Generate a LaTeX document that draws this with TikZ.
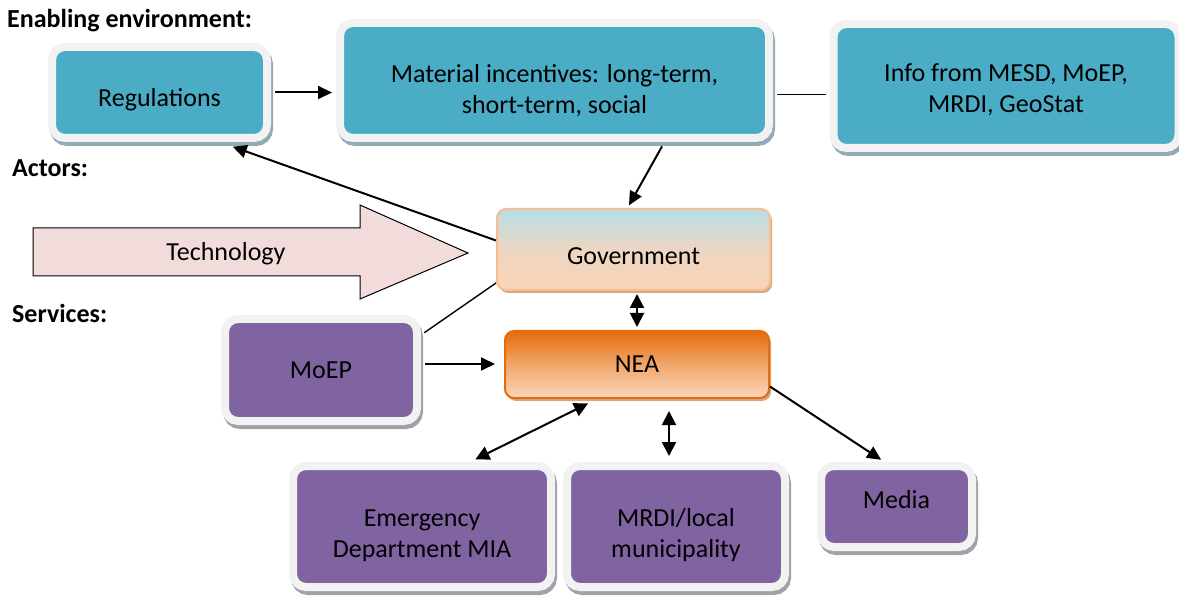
\documentclass[tikz,border=0pt]{standalone}
\usepackage{fontspec}
\setmainfont{Carlito}
\usetikzlibrary{arrows.meta,shadows}

\definecolor{tealbox}{HTML}{4BACC6}
\definecolor{purplebox}{HTML}{8064A2}
\definecolor{framegray}{HTML}{F2F2F2}
\definecolor{tealshadow}{HTML}{93AAB5}
\definecolor{purpleshadow}{HTML}{A3A0AA}
\definecolor{govtop}{HTML}{B7DEE8}
\definecolor{govbottom}{HTML}{FAD4B8}
\definecolor{govline}{HTML}{F9BE8F}
\definecolor{neatop}{HTML}{E46C0A}
\definecolor{neabottom}{HTML}{FBD6BA}
\definecolor{peachshadow}{HTML}{D3A888}
\definecolor{techfill}{HTML}{F2DCDB}

% text lowered inside its box, box size kept
\newcommand{\boxtext}[2]{\raisebox{-#1}[\height][\depth]{\begin{tabular}{@{}c@{}}#2\end{tabular}}}

\tikzset{
  framebox/.style={draw=framegray, line width=8pt, rounded corners=13pt,
    align=center, inner sep=0pt, font=\fontsize{26}{31}\selectfont},
  envbox/.style={framebox, fill=tealbox,
    drop shadow={shadow xshift=2pt, shadow yshift=-4pt, opacity=1,
      fill=tealshadow, draw=tealshadow, line width=8pt}},
  servbox/.style={framebox, fill=purplebox,
    drop shadow={shadow xshift=2pt, shadow yshift=-4pt, opacity=1,
      fill=purpleshadow, draw=purpleshadow, line width=8pt}},
  actorbox/.style={rounded corners=9pt, line width=2pt, inner sep=0pt,
    font=\fontsize{26}{31}\selectfont,
    drop shadow={shadow xshift=2pt, shadow yshift=-3pt, opacity=1,
      fill=peachshadow}},
  heading/.style={anchor=west, inner sep=0pt,
    font=\bfseries\fontsize{26}{31}\selectfont},
  conn/.style={line width=2pt, -{Triangle[length=14pt,width=13pt]}},
  twoway/.style={line width=2pt,
    {Triangle[length=14pt,width=14pt]}-{Triangle[length=14pt,width=14pt]}},
  plain/.style={line width=1.4pt}
}

\begin{document}
\begin{tikzpicture}[x=1pt, y=-1pt]

\useasboundingbox (0,0) rectangle (1179,596);


% Headings
\path
(7,21) node [heading] (henv) {Enabling environment:};
\path
(12,168) node [heading] (hact) {Actors:};
\path
(12,313) node [heading] (hserv) {Services:};



% Enabling environment
\path
(159.5,92.5) node [envbox, minimum width=215, minimum height=91] (regs)
{\boxtext{8pt}{Regulations}};

\path
(554.5,80.5) node [envbox, minimum width=429, minimum height=115] (mat)
{\boxtext{11pt}{Material incentives: long-term,\\ short-term, social}};

\path
(1006,86) node [envbox, minimum width=345, minimum height=124] (info)
{\boxtext{5pt}{Info from MESD, MoEP,\\ MRDI, GeoStat}};



% Technology arrow
\filldraw[fill=techfill, draw=black, line width=1pt]
(33,228) -- (360,228) -- (360,205) -- (468,253) -- (360,299) -- (360,276) -- (33,276) -- cycle;
\path
(226,254) node [font=\fontsize{26}{31}\selectfont] (tech) {Technology};



% Actors
\path
(633.5,249.5) node [actorbox, draw=govline, top color=govtop, bottom color=govbottom,
  middle color=govbottom!80!govtop, minimum width=273, minimum height=81] (gov)
{\boxtext{9pt}{Government}};

\path
(637,364.5) node [actorbox, draw=neatop, top color=neatop, bottom color=neabottom,
  middle color=neatop!45!neabottom, minimum width=264, minimum height=67] (nea) {NEA};



% Services
\path
(321,370) node [servbox, minimum width=192, minimum height=102] (moep) {MoEP};

\path
(422,526.5) node [servbox, minimum width=258, minimum height=121] (emerg)
{\boxtext{9pt}{Emergency\\ Department MIA}};

\path
(676,526.5) node [servbox, minimum width=218, minimum height=121] (mrdi)
{\boxtext{9pt}{MRDI/local\\ municipality}};

\path
(896.5,506.5) node [servbox, minimum width=151, minimum height=81] (media)
{\boxtext{-4pt}{Media}};



% Connectors
\draw[conn, shorten <=4pt, shorten >=4pt] (regs.east) -- (regs.east -| mat.west);
\draw[plain, shorten <=4pt, shorten >=4pt] ([yshift=-14pt]mat.east) -- ([yshift=-14pt]mat.east -| info.west);
\draw[conn, shorten <=5pt, shorten >=3pt] ([xshift=110pt]mat.south) -- ([xshift=-6pt]gov.north);
\draw[conn, shorten >=14pt] ([yshift=9pt]gov.west) -- ([xshift=60pt]regs.south);
\draw[plain, shorten >=4pt] ([yshift=8pt]gov.south west) -- ([yshift=35pt]moep.east);
\draw[conn, shorten <=4pt, shorten >=9pt] ([yshift=6pt]moep.east) -- ([yshift=6pt]moep.east -| nea.west);
\draw[twoway, shorten <=3pt, shorten >=3pt] (gov.south -| nea.north) -- (nea.north);
\draw[twoway, shorten <=10pt, shorten >=6pt] ([xshift=-40pt]nea.south) -- ([xshift=48pt]emerg.north);
\draw[twoway, shorten <=12pt, shorten >=6pt] ([xshift=32pt]nea.south) -- ([xshift=32pt]nea.south |- mrdi.north);
\draw[conn, shorten >=4pt] ([yshift=-22pt]nea.east) -- ([xshift=-12pt]media.north);

\end{tikzpicture}
\end{document}
